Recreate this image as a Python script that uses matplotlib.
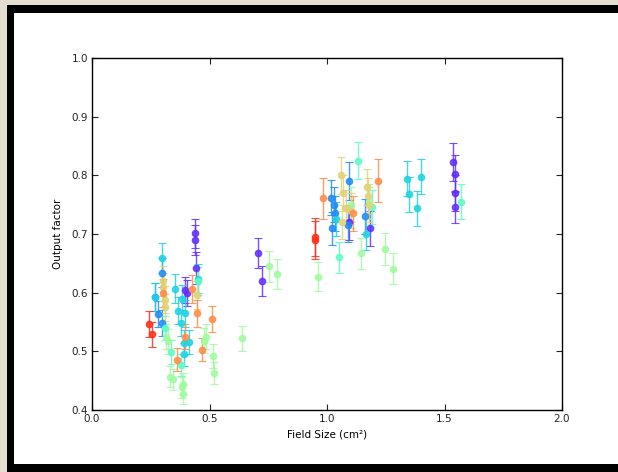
import matplotlib
matplotlib.use("Agg")
import matplotlib.pyplot as plt
from matplotlib.patches import Rectangle

# Output factor measurements per detector, grouped by series
purple_x = [0.438, 0.440, 0.443, 0.396, 0.403, 0.708, 0.722, 1.183, 1.095, 1.535, 1.546, 1.546, 1.546]
purple_y = [0.701, 0.690, 0.642, 0.605, 0.599, 0.668, 0.620, 0.710, 0.720, 0.823, 0.803, 0.770, 0.746]
purple_e = [0.025, 0.025, 0.028, 0.022, 0.022, 0.026, 0.025, 0.030, 0.030, 0.032, 0.032, 0.030, 0.028]

blue_x = [0.282, 0.299, 0.299, 0.268, 1.017, 1.020, 1.030, 1.035, 1.095, 1.090, 1.160]
blue_y = [0.563, 0.548, 0.634, 0.593, 0.762, 0.710, 0.750, 0.735, 0.790, 0.715, 0.730]
blue_e = [0.022, 0.022, 0.025, 0.024, 0.030, 0.028, 0.030, 0.030, 0.032, 0.028, 0.030]

cyan_x = [0.297, 0.268, 0.353, 0.381, 0.365, 0.379, 0.393, 0.414, 0.393, 0.396, 0.452,
          1.339, 1.349, 1.384, 1.401, 1.040, 1.165]
cyan_y = [0.659, 0.592, 0.607, 0.589, 0.569, 0.548, 0.515, 0.516, 0.495, 0.565, 0.624,
          0.794, 0.768, 0.744, 0.798, 0.725, 0.700]
cyan_e = [0.026, 0.024, 0.024, 0.024, 0.023, 0.022, 0.021, 0.021, 0.020, 0.023, 0.025,
          0.030, 0.030, 0.030, 0.030, 0.029, 0.028]

teal_x = [0.336, 0.377, 0.310, 0.450, 1.133, 1.051, 1.191, 1.570]
teal_y = [0.499, 0.477, 0.540, 0.620, 0.825, 0.660, 0.746, 0.755]
teal_e = [0.020, 0.019, 0.021, 0.024, 0.032, 0.026, 0.029, 0.030]

green_x = [0.315, 0.325, 0.332, 0.343, 0.381, 0.389, 0.387, 0.485, 0.478, 0.516, 0.520,
           0.637, 0.755, 0.786, 0.963, 1.145, 1.248, 1.282, 1.100, 1.180]
green_y = [0.525, 0.517, 0.457, 0.452, 0.439, 0.427, 0.445, 0.525, 0.518, 0.492, 0.463,
           0.522, 0.645, 0.632, 0.627, 0.667, 0.674, 0.641, 0.750, 0.755]
green_e = [0.021, 0.021, 0.018, 0.018, 0.018, 0.017, 0.018, 0.021, 0.021, 0.020, 0.018,
           0.021, 0.026, 0.025, 0.025, 0.027, 0.027, 0.026, 0.030, 0.030]

tan_x = [0.303, 0.311, 0.300, 0.310, 0.448, 1.060, 1.070, 1.080, 1.065, 1.170, 1.175, 1.180, 1.100]
tan_y = [0.609, 0.588, 0.620, 0.575, 0.596, 0.800, 0.770, 0.745, 0.720, 0.780, 0.765, 0.750, 0.740]
tan_e = [0.024, 0.023, 0.025, 0.023, 0.024, 0.032, 0.031, 0.030, 0.029, 0.031, 0.031, 0.030, 0.030]

orange_x = [0.984, 0.427, 0.448, 0.467, 0.394, 0.363, 1.218, 1.112, 0.300, 0.512]
orange_y = [0.761, 0.606, 0.565, 0.503, 0.525, 0.486, 0.791, 0.735, 0.600, 0.555]
orange_e = [0.035, 0.024, 0.023, 0.020, 0.021, 0.019, 0.036, 0.030, 0.024, 0.022]

red_x = [0.244, 0.255, 0.949, 0.949]
red_y = [0.547, 0.529, 0.695, 0.690]
red_e = [0.022, 0.021, 0.033, 0.033]

series = [
    (purple_x, purple_y, purple_e),
    (blue_x, blue_y, blue_e),
    (cyan_x, cyan_y, cyan_e),
    (teal_x, teal_y, teal_e),
    (green_x, green_y, green_e),
    (tan_x, tan_y, tan_e),
    (orange_x, orange_y, orange_e),
    (red_x, red_y, red_e),
]

W, H = 618, 472
fig = plt.figure(figsize=(W / 100, H / 100), dpi=100)
fig.patch.set_facecolor("#e6ded1")

# Black frame and white canvas behind the axes
fig.patches.append(Rectangle((7 / W, 0), 1, (H - 5) / H, transform=fig.transFigure,
                             facecolor="black", edgecolor="none", zorder=-2))
fig.patches.append(Rectangle((14 / W, 8 / H), 1, (464 - 13) / H, transform=fig.transFigure,
                             facecolor="white", edgecolor="none", zorder=-1))

ax = fig.add_axes([92 / W, 62 / H, (562 - 92) / W, (410 - 58) / H])
ax.set_facecolor("white")

cmap = matplotlib.colormaps["rainbow"]
n = len(series)
for i, (xs, ys, es) in enumerate(series):
    c = cmap(0.06 + 0.88 * i / (n - 1))
    ax.errorbar(xs, ys, yerr=es, fmt="o", color=c, ecolor=c, mec=c, mfc=c,
                markersize=4.5, elinewidth=1.0, capsize=3, capthick=0.8, alpha=0.85)

ax.set_xlim(0.0, 2.0)
ax.set_ylim(0.4, 1.0)
ax.set_xticks([0.0, 0.5, 1.0, 1.5, 2.0])
ax.set_yticks([0.4, 0.5, 0.6, 0.7, 0.8, 0.9, 1.0])
ax.set_xticklabels(["0.0", "0.5", "1.0", "1.5", "2.0"])
ax.set_yticklabels(["0.4", "0.5", "0.6", "0.7", "0.8", "0.9", "1.0"])
ax.tick_params(direction="in", top=True, right=True, length=4, width=0.8,
               labelsize=7.5, colors="#222222", pad=3)
for s in ax.spines.values():
    s.set_linewidth(1.0)
    s.set_color("black")

ax.set_xlabel("Field Size (cm²)", fontsize=7.5, labelpad=4)
ax.set_ylabel("Output factor", fontsize=7.5, labelpad=6)

fig.savefig("out.png", dpi=100, facecolor=fig.get_facecolor())
